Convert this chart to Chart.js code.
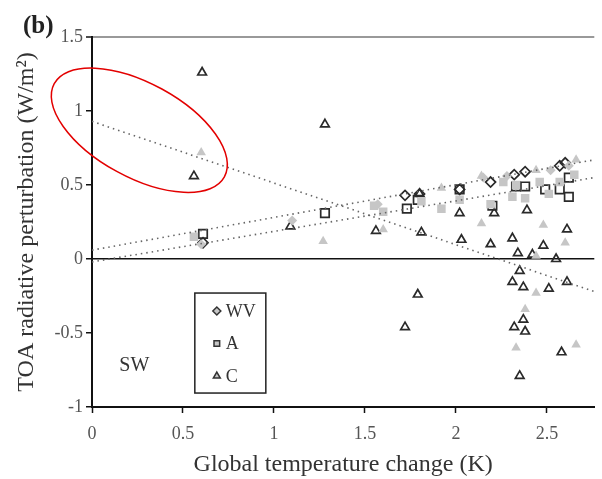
<!DOCTYPE html>
<html>
<head>
<meta charset="utf-8">
<script src="https://cdn.jsdelivr.net/npm/chart.js@4"></script>
<style>
  body { margin: 0; background: #fff; }
  #wrap { width: 602px; height: 479px; }
</style>
</head>
<body>
<div id="wrap"><canvas id="swChart"></canvas></div>
<script>
// WV (water vapour) points: open = dark outlined, filled = light gray
const wvOpen = [[0.61, 0.11], [1.72, 0.43], [1.8, 0.44], [2.02, 0.47], [2.19, 0.52], [2.32, 0.57], [2.38, 0.59], [2.57, 0.63], [2.6, 0.65]];
const wvFilled = [[0.6, 0.1], [1.1, 0.26], [1.57, 0.37], [2.15, 0.55], [2.28, 0.56], [2.52, 0.6], [2.62, 0.63]];

// A (albedo) points
const aOpen = [[0.61, 0.17], [1.28, 0.31], [1.73, 0.34], [1.79, 0.4], [2.02, 0.47], [2.2, 0.36], [2.33, 0.49], [2.38, 0.49], [2.49, 0.47], [2.57, 0.47], [2.62, 0.42], [2.62, 0.55]];
const aFilled = [[0.56, 0.15], [1.55, 0.36], [1.6, 0.32], [1.81, 0.39], [1.92, 0.34], [2.02, 0.4], [2.19, 0.37], [2.31, 0.42], [2.38, 0.41], [2.33, 0.5], [2.46, 0.52], [2.57, 0.52], [2.65, 0.57], [2.51, 0.44], [2.26, 0.52]];

// C (cloud) points
const cOpen = [[0.605, 1.26], [0.56, 0.56], [1.28, 0.91], [1.09, 0.22], [1.56, 0.19], [1.8, 0.44], [1.81, 0.18], [2.02, 0.31], [2.03, 0.13], [2.19, 0.1], [2.21, 0.31], [2.31, 0.14], [2.34, 0.04], [2.39, 0.33], [2.42, 0.03], [2.48, 0.09], [2.55, 0.0], [2.61, 0.2], [2.35, -0.08], [2.31, -0.155], [2.37, -0.19], [2.51, -0.2], [2.61, -0.155], [1.79, -0.24], [1.72, -0.46], [2.37, -0.41], [2.32, -0.46], [2.38, -0.49], [2.58, -0.63], [2.35, -0.79]];
const cFilled = [[0.6, 0.72], [1.27, 0.12], [1.6, 0.2], [1.92, 0.48], [2.14, 0.56], [2.14, 0.24], [2.48, 0.23], [2.6, 0.11], [2.66, 0.67], [2.44, 0.6], [2.44, 0.02], [2.44, -0.23], [2.38, -0.34], [2.33, -0.6], [2.66, -0.58]];

// dotted fit lines, end points
const trendX = [0, 2.76];
const trendWV = [0.06, 0.67];
const trendA = [-0.02, 0.55];
const trendC = [0.93, -0.22];

const xTicks = [0, 0.5, 1, 1.5, 2, 2.5];
const yTicks = [-1, -0.5, 0, 0.5, 1, 1.5];

const legendItems = [
    { label: 'WV', style: 'rectRot' },
    { label: 'A', style: 'rect' },
    { label: 'C', style: 'triangle' }
];

const serif = '"Liberation Serif", "DejaVu Serif", serif';

function toPoints(list) {
    return list.map(p => ({ x: p[0], y: p[1] }));
}
function trendPoints(ys) {
    return trendX.map((x, i) => ({ x: x, y: ys[i] }));
}

function filledSet(label, list, style, radius) {
    return {
        type: 'scatter', label: label, data: toPoints(list),
        pointStyle: style, pointRadius: radius, pointHoverRadius: radius,
        backgroundColor: '#c6c6c6', borderColor: '#c6c6c6', borderWidth: 0
    };
}
function openSet(label, list, style, radius) {
    return {
        type: 'scatter', label: label, data: toPoints(list),
        pointStyle: style, pointRadius: radius, pointHoverRadius: radius,
        backgroundColor: 'rgba(255,255,255,0)', borderColor: '#2a2a2a', borderWidth: 1.7
    };
}
function trendSet(label, ys) {
    return {
        type: 'line', label: label, data: trendPoints(ys),
        borderColor: '#666', borderWidth: 1.6, borderDash: [1.5, 4],
        pointRadius: 0, fill: false
    };
}

// texts, legend box and the red ellipse
const extras = {
    id: 'extras',
    afterDraw(chart) {
        const ctx = chart.ctx;
        const xs = chart.scales.x, ys = chart.scales.y;
        ctx.save();

        ctx.fillStyle = '#222';
        ctx.font = 'bold 25px ' + serif;
        ctx.textBaseline = 'alphabetic';
        ctx.fillText('(b)', 23, 33);

        ctx.fillStyle = '#333';
        ctx.font = '20px ' + serif;
        ctx.fillText('SW', xs.getPixelForValue(0.15), ys.getPixelForValue(-0.76));

        // legend box
        const bx = xs.getPixelForValue(0.565), by = ys.getPixelForValue(-0.23);
        const bw = 71, bh = 100;
        ctx.strokeStyle = '#222';
        ctx.lineWidth = 1.5;
        ctx.strokeRect(bx, by, bw, bh);
        legendItems.forEach((item, i) => {
            const cy = by + 18 + i * 32.5;
            const mx = bx + 22;
            ctx.fillStyle = '#c6c6c6';
            ctx.strokeStyle = '#333';
            Chart.helpers.drawPoint(ctx, { pointStyle: item.style, radius: 4, borderWidth: 1.5, rotation: 0 }, mx, cy);
            ctx.fillStyle = '#333';
            ctx.font = '18px ' + serif;
            ctx.textBaseline = 'middle';
            ctx.fillText(item.label, mx + 9, cy + 1);
        });

        // red ellipse annotation
        ctx.beginPath();
        ctx.strokeStyle = '#e30000';
        ctx.lineWidth = 1.5;
        ctx.ellipse(xs.getPixelForValue(0.26), ys.getPixelForValue(0.87), 97, 47, 28.7 * Math.PI / 180, 0, Math.PI * 2);
        ctx.stroke();
        ctx.restore();
    }
};

const canvasContext = document.getElementById('swChart').getContext('2d');

new Chart(canvasContext, {
    data: {
        datasets: [
            trendSet('fit C', trendC),
            trendSet('fit WV', trendWV),
            trendSet('fit A', trendA),
            filledSet('C filled', cFilled, 'triangle', 5.5),
            filledSet('A filled', aFilled, 'rect', 6),
            filledSet('WV filled', wvFilled, 'rectRot', 5),
            openSet('C', cOpen, 'triangle', 5),
            openSet('A', aOpen, 'rect', 6),
            openSet('WV', wvOpen, 'rectRot', 5)
        ]
    },
    options: {
        responsive: true,
        maintainAspectRatio: false,
        animation: false,
        layout: { padding: { top: 37, right: 0, left: 0, bottom: 0 } },
        plugins: {
            legend: { display: false },
            tooltip: { enabled: false }
        },
        scales: {
            x: {
                type: 'linear', min: 0, max: 2.76,
                afterBuildTicks: s => { s.ticks = xTicks.map(v => ({ value: v })); },
                afterFit: s => { s.height = 72; },
                border: { color: '#111', width: 2 },
                grid: { drawOnChartArea: false, tickLength: 6, tickColor: '#111', tickWidth: 1.5 },
                ticks: { color: '#555', font: { family: serif, size: 18 }, padding: 10, callback: v => String(v) },
                title: { display: true, text: 'Global temperature change (K)', color: '#333', font: { family: serif, size: 24 }, padding: { top: 4, bottom: 0 } }
            },
            y: {
                type: 'linear', min: -1, max: 1.5,
                afterBuildTicks: s => { s.ticks = yTicks.map(v => ({ value: v })); },
                afterFit: s => { s.width = 92; },
                border: { color: '#111', width: 2 },
                grid: {
                    drawOnChartArea: true, tickLength: 6, tickColor: '#111', tickWidth: 1.5,
                    color: c => c.tick && c.tick.value === 0 ? '#111' : (c.tick && c.tick.value === 1.5 ? '#999' : 'rgba(0,0,0,0)'),
                    lineWidth: c => c.tick && c.tick.value === 1.5 ? 2 : 1.5
                },
                ticks: { color: '#555', font: { family: serif, size: 18 }, padding: 3, callback: v => String(v) },
                title: { display: true, text: 'TOA radiative perturbation (W/m²)', color: '#333', font: { family: serif, size: 24 }, padding: { top: 12, bottom: 0 } }
            }
        }
    },
    plugins: [extras]
});
</script>
</body>
</html>
